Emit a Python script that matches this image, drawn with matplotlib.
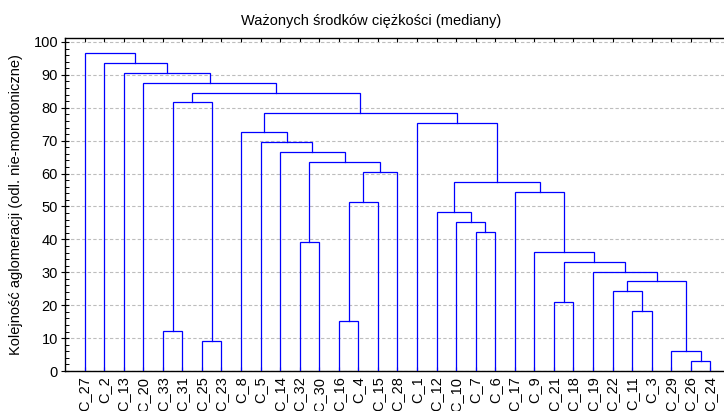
import matplotlib.pyplot as plt

plt.rcParams['font.family'] = ['Liberation Sans', 'DejaVu Sans']

# kolejność liści na osi X
leaves = ["C_27", "C_2", "C_13", "C_20", "C_33", "C_31", "C_25", "C_23", "C_8", "C_5",
          "C_14", "C_32", "C_30", "C_16", "C_4", "C_15", "C_28", "C_1", "C_12", "C_10",
          "C_7", "C_6", "C_17", "C_9", "C_21", "C_18", "C_19", "C_22", "C_11", "C_3",
          "C_29", "C_26", "C_24"]

# kolejne połączenia (m1, m2, ... to skupienia utworzone wcześniej)
merge_a = ["C_26", "C_29", "C_25", "C_33", "C_16", "C_11", "C_21", "C_22", "m8", "C_19",
           "m7", "C_9", "C_32", "C_7", "C_10", "C_12", "m5", "C_17", "m16", "m17",
           "m13", "C_14", "C_5", "C_8", "C_1", "m24", "m4", "m27", "C_20", "C_13",
           "C_2", "C_27"]
merge_b = ["C_24", "m1", "C_23", "C_31", "C_4", "C_3", "C_18", "m6", "m2", "m9",
           "m10", "m11", "C_30", "C_6", "m14", "m15", "C_15", "m12", "m18", "C_28",
           "m20", "m21", "m22", "m23", "m19", "m25", "m3", "m26", "m28", "m29",
           "m30", "m31"]
heights = [3.0, 6.0, 9.0, 12.1, 15.1, 18.1, 21.1, 24.2, 27.2, 30.2, 33.2, 36.2, 39.3,
           42.3, 45.3, 48.3, 51.4, 54.4, 57.4, 60.4, 63.4, 66.5, 69.5, 72.5, 75.5,
           78.5, 81.6, 84.6, 87.6, 90.6, 93.6, 96.7]

fig = plt.figure(figsize=(7.24, 4.11), dpi=100)
ax = fig.add_axes([65 / 724, 1 - 371 / 411, 1 - 65 / 724, (371 - 38) / 411])

pos = {name: i + 1 for i, name in enumerate(leaves)}
hgt = {name: 0 for name in leaves}
for k, (a, b, h) in enumerate(zip(merge_a, merge_b, heights)):
    xa, xb = pos[a], pos[b]
    ax.plot([xa, xa, xb, xb], [hgt[a], h, h, hgt[b]], color='#0000ff', lw=0.9,
            solid_joinstyle='miter', zorder=3)
    name = "m%d" % (k + 1)
    pos[name] = (xa + xb) / 2
    hgt[name] = h

ax.set_xlim(0, 33.7)
ax.set_ylim(0, 101.2)
ax.set_yticks(range(0, 101, 10))
ax.set_yticks(range(0, 101, 2), minor=True)
ax.set_xticks(range(1, len(leaves) + 1))
ax.set_xticklabels(leaves, rotation=90, fontsize=10.5)
ax.tick_params(axis='y', which='major', direction='inout', length=6, width=0.8,
               labelsize=10.5, pad=2)
ax.tick_params(axis='y', which='minor', direction='in', length=3, width=0.7)
ax.tick_params(axis='x', which='both', top=True, bottom=True, direction='in',
               length=3, width=0.8, pad=4)
ax.yaxis.grid(True, which='major', color='#bdbdbd', linestyle=(0, (3, 2)), lw=0.8)
ax.set_axisbelow(True)
ax.spines['right'].set_visible(False)
for s in ['left', 'top', 'bottom']:
    ax.spines[s].set_linewidth(1.0)

ax.set_ylabel("Kolejność aglomeracji (odl. nie-monotoniczne)", fontsize=10.5)
ax.yaxis.set_label_coords(-0.064, 0.5)
fig.text(371 / 724, 1 - 25 / 411, "Ważonych środków ciężkości (mediany)",
         ha='center', va='baseline', fontsize=10.5)

fig.savefig("out.png", dpi=100)
